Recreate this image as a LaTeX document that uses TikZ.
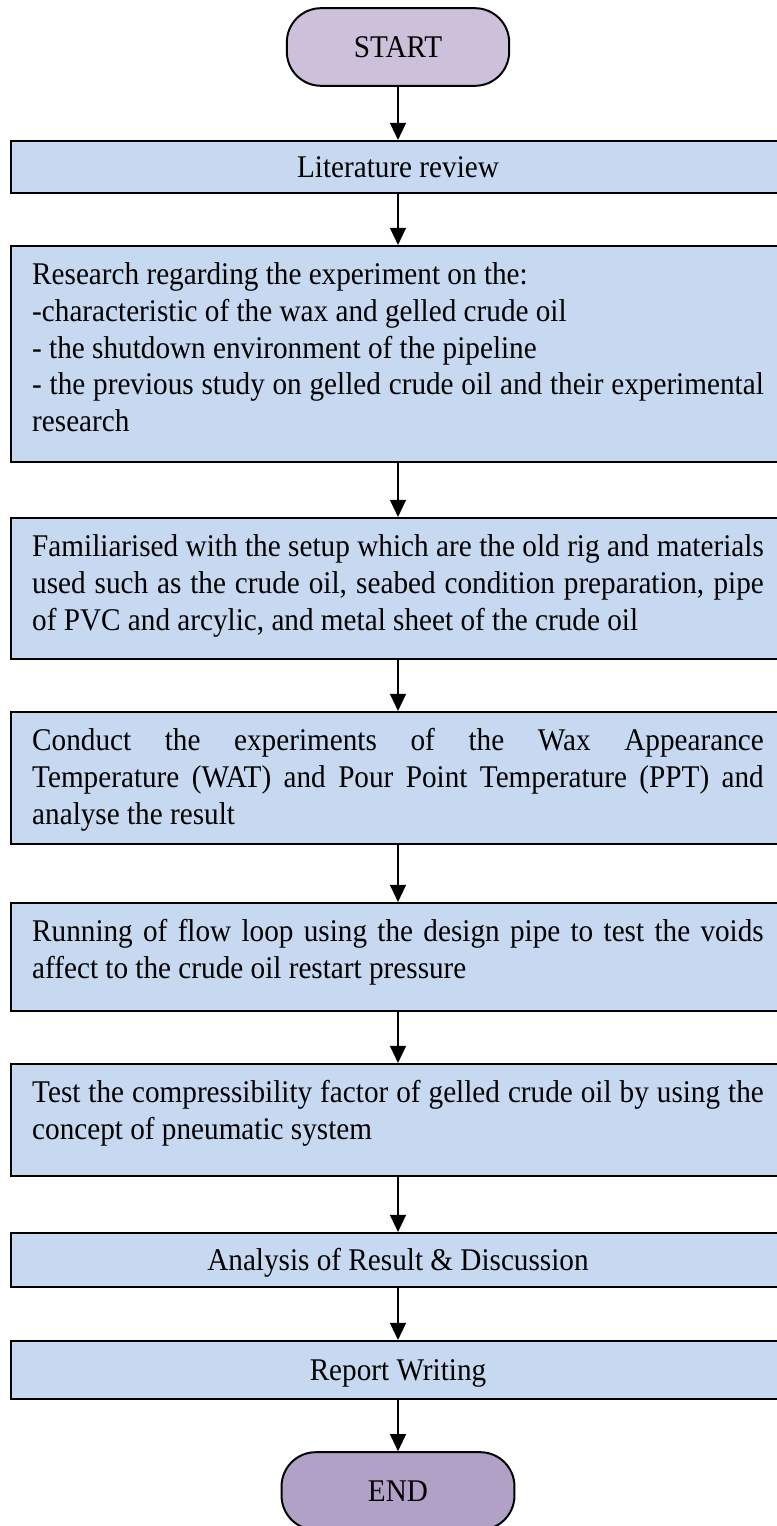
\documentclass[tikz,border=0pt]{standalone}
\usepackage{fontspec}
\setmainfont{Liberation Serif}[FakeStretch=0.925]
\usepackage{tikz}
\usetikzlibrary{
  arrows.meta,
  positioning
}
\definecolor{fcBox}{HTML}{C6D9F1}
\definecolor{fcStart}{HTML}{CCC0DA}
\definecolor{fcEnd}{HTML}{B2A1C7}
\hyphenpenalty=10000
\tikzset{
  fcnode/.style={
    draw=black, line width=0.75pt, font=\fontsize{12pt}{14pt}\selectfont
  },
  terminal/.style={fcnode, rounded corners=13pt, minimum height=29.5pt},
  stepbox/.style={fcnode, fill=fcBox, anchor=north, text width=278pt, inner xsep=8pt},
  multibox/.style={stepbox, align=justify, inner ysep=5.6pt, text height=9pt, text depth=#1},
  singlebox/.style={stepbox, align=flush center, inner ysep=0pt, text height=11pt,
    text depth=3pt, minimum height=#1},
  flow/.style={-{Triangle[length=6.5pt, width=6pt]}, line width=0.8pt}
}

\begin{document}
\begin{tikzpicture}[x=0.38pt, y=-0.38pt]
  \useasboundingbox (0,0) rectangle (777,1526);
  \node[terminal, fill=fcStart, minimum width=84.5pt] (start) at (398,47) {START};
  \node[singlebox=19.8pt] (lit) at (398,140) {Literature review};
  \node[multibox=61.9pt] (research) at (398,245) {Research regarding the experiment on the:\\
    -characteristic of the wax and gelled crude oil\\
    - the shutdown environment of the pipeline\\
    - the previous study on gelled crude oil and their experimental\linebreak research};
  \node[multibox=33.4pt] (setup) at (398,517) {Familiarised with the setup which are the old rig and materials\linebreak
    used such as the crude oil, seabed condition preparation, pipe\linebreak
    of PVC and arcylic, and metal sheet of the crude oil};
  \node[multibox=30pt] (watppt) at (398,711) {Conduct the experiments of the Wax Appearance\linebreak
    Temperature (WAT) and Pour Point Temperature (PPT) and\linebreak
    analyse the result};
  \node[multibox=20.8pt] (flowloop) at (398,902) {Running of flow loop using the design pipe to test the voids\linebreak
    affect to the crude oil restart pressure};
  \node[multibox=22.4pt] (compress) at (398,1063) {Test the compressibility factor of gelled crude oil by using the\linebreak
    concept of pneumatic system};
  \node[singlebox=20.5pt] (analysis) at (398,1232) {Analysis of Result \& Discussion};
  \node[singlebox=22pt] (report) at (398,1340) {Report Writing};
  \node[terminal, fill=fcEnd, minimum width=88.5pt] (end) at (398,1491) {END};
  \draw[flow] (start) -- (lit); \draw[flow] (lit) -- (research); \draw[flow] (research) -- (setup);
  \draw[flow] (setup) -- (watppt); \draw[flow] (watppt) -- (flowloop); \draw[flow] (flowloop) -- (compress);
  \draw[flow] (compress) -- (analysis); \draw[flow] (analysis) -- (report); \draw[flow] (report) -- (end);
\end{tikzpicture}
\end{document}
